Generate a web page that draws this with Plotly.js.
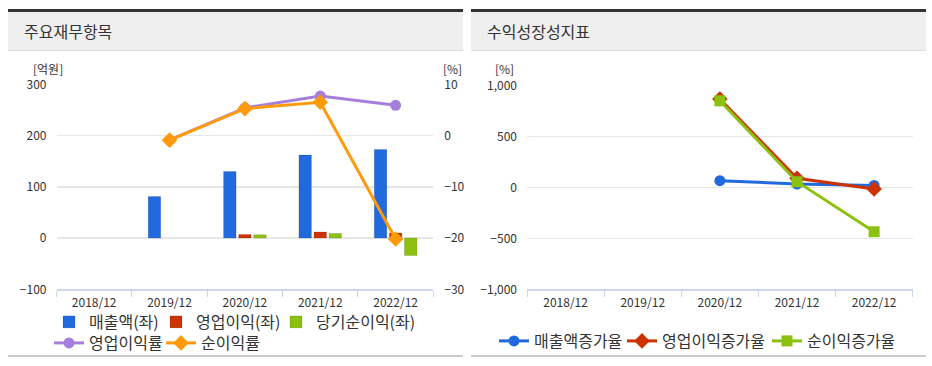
<!DOCTYPE html>
<html>
<head>
<meta charset="utf-8">
<script src="https://cdn.plot.ly/plotly-3.0.1.min.js"></script>
<style>
html,body{margin:0;padding:0;background:#fff;}
#chart{width:932px;height:366px;}
</style>
</head>
<body>
<div id="chart"></div>
<script>
// ---- data ----
const categories = ['2018/12','2019/12','2020/12','2021/12','2022/12'];
// left panel (억원, left axis)
const sales      = [null, 81, 130, 162, 173];
const opIncome   = [null, null, 7, 12, 10];
const netIncome  = [null, null, 6.5, 9, -34];
// left panel (%, right axis)
const opMargin   = [null, -0.9, 5.4, 7.7, 5.9];
const netMargin  = [null, -0.9, 5.25, 6.5, -20.2];
// right panel (%)
const salesGrowth = [null, null, 67, 34, 20];
const opGrowth    = [null, null, 870, 90, -15];
const netGrowth   = [null, null, 853, 57, -434];

const leftTitle = '주요재무항목';
const rightTitle = '수익성장성지표';

// ---- layout helpers ----
const W = 932, H = 366;
const px = x => x / W;
const py = y => 1 - y / H;

const FONT = '"Noto Sans CJK KR", "Malgun Gothic", sans-serif';
const C = {blue:'#2169df', red:'#cc3300', green:'#8dc110', purple:'#a67fdc', orange:'#ff9a0b'};
const barLine = {color:'rgba(0,0,0,0.12)', width:1};

const traces = [
  {type:'bar', name:'매출액(좌)', x:categories, y:sales, xaxis:'x', yaxis:'y',
   marker:{color:C.blue, line:barLine}, legend:'legend', showlegend:true},
  {type:'bar', name:'영업이익(좌)', x:categories, y:opIncome, xaxis:'x', yaxis:'y',
   marker:{color:C.red, line:barLine}, legend:'legend2', showlegend:true},
  {type:'bar', name:'당기순이익(좌)', x:categories, y:netIncome, xaxis:'x', yaxis:'y',
   marker:{color:C.green, line:barLine}, legend:'legend3', showlegend:true},
  {type:'scatter', mode:'lines+markers', name:'영업이익률', x:categories, y:opMargin, xaxis:'x', yaxis:'y2',
   line:{color:C.purple, width:3}, marker:{symbol:'circle', size:11, color:C.purple}, legend:'legend4', showlegend:true},
  {type:'scatter', mode:'lines+markers', name:'순이익률', x:categories, y:netMargin, xaxis:'x', yaxis:'y2',
   line:{color:C.orange, width:3}, marker:{symbol:'diamond', size:12, color:C.orange}, legend:'legend5', showlegend:true},
  {type:'scatter', mode:'lines+markers', name:'매출액증가율', x:categories, y:salesGrowth, xaxis:'x2', yaxis:'y3',
   line:{color:C.blue, width:3}, marker:{symbol:'circle', size:11, color:C.blue}, legend:'legend6', showlegend:true},
  {type:'scatter', mode:'lines+markers', name:'영업이익증가율', x:categories, y:opGrowth, xaxis:'x2', yaxis:'y3',
   line:{color:C.red, width:3}, marker:{symbol:'diamond', size:12, color:C.red}, legend:'legend7', showlegend:true},
  {type:'scatter', mode:'lines+markers', name:'순이익증가율', x:categories, y:netGrowth, xaxis:'x2', yaxis:'y3',
   line:{color:C.green, width:3}, marker:{symbol:'square', size:11, color:C.green}, legend:'legend8', showlegend:true}
];

const xCommon = {
  type:'category', categoryorder:'array', categoryarray:categories, range:[-0.5, 4.5],
  tickson:'boundaries', ticks:'outside', ticklen:6, tickcolor:'#ccd6eb', tickwidth:1,
  showline:true, linecolor:'#ccd6eb', linewidth:1.5, showgrid:false, zeroline:false,
  tickfont:{size:12, color:'#333'}, ticklabelstandoff:2, fixedrange:true
};
const yCommon = {
  gridcolor:'#e6e6e6', gridwidth:1.5, zeroline:false, ticks:'', showline:false,
  tickfont:{size:12, color:'#333'}, fixedrange:true
};
const leg = (textStart, yc) => ({
  visible:true,
  orientation:'h', xanchor:'left', yanchor:'middle', bgcolor:'rgba(0,0,0,0)',
  font:{size:16, color:'#333', family:FONT}, itemwidth:30, tracegroupgap:0,
  x:px(textStart - 39), y:py(yc)
});

const panels = [[8, 463], [471, 926]];
const shapes = [];
panels.forEach(([a, b]) => {
  shapes.push({type:'rect', xref:'paper', yref:'paper', x0:px(a), x1:px(b), y0:py(50), y1:py(12),
               fillcolor:'#efefef', line:{width:0}, layer:'below'});
  shapes.push({type:'rect', xref:'paper', yref:'paper', x0:px(a), x1:px(b), y0:py(12), y1:py(9),
               fillcolor:'#333', line:{width:0}, layer:'below'});
  shapes.push({type:'rect', xref:'paper', yref:'paper', x0:px(a), x1:px(b), y0:py(51), y1:py(50),
               fillcolor:'#dddddd', line:{width:0}, layer:'below'});
  shapes.push({type:'rect', xref:'paper', yref:'paper', x0:px(a), x1:px(b), y0:py(357), y1:py(355),
               fillcolor:'#cccccc', line:{width:0}, layer:'below'});
});

const ann = (text, x, y, size, anchor) => ({
  text, xref:'paper', yref:'paper', x:px(x), y:py(y), xanchor:anchor || 'center', yanchor:'middle',
  showarrow:false, font:{size, color:'#333', family:FONT}
});

const layout = {
  width:W, height:H, margin:{l:0, r:0, t:0, b:0},
  paper_bgcolor:'#fff', plot_bgcolor:'rgba(0,0,0,0)',
  font:{family:FONT, color:'#333'},
  showlegend:true,
  barmode:'group', bargap:0.4, bargroupgap:0.17,
  hovermode:false,
  xaxis:Object.assign({}, xCommon, {domain:[px(56.5), px(433.3)], anchor:'y'}),
  yaxis:Object.assign({}, yCommon, {domain:[py(289.3), py(84.3)], range:[-100, 300], dtick:100, tick0:0,
                                    anchor:'x', ticklabelstandoff:9}),
  yaxis2:Object.assign({}, yCommon, {overlaying:'y', side:'right', anchor:'x', range:[-30, 10], dtick:10, tick0:0,
                                     showgrid:false, ticklabelstandoff:10}),
  xaxis2:Object.assign({}, xCommon, {domain:[px(527), px(912.7)], anchor:'y3'}),
  yaxis3:Object.assign({}, yCommon, {domain:[py(289.3), py(85.7)], range:[-1000, 1000], dtick:500, tick0:0,
                                     anchor:'x2', tickformat:',d', ticklabelstandoff:9}),
  legend:leg(88, 322),
  legend2:leg(195, 322),
  legend3:leg(315, 322),
  legend4:leg(88, 343),
  legend5:leg(200, 343),
  legend6:leg(533, 341),
  legend7:leg(661, 341),
  legend8:leg(806, 341),
  shapes,
  annotations:[
    ann(leftTitle, 22, 31, 16, 'left'),
    ann(rightTitle, 485, 31, 16, 'left'),
    ann('[억원]', 48, 68, 12),
    ann('[%]', 452.5, 68, 12),
    ann('[%]', 504, 68, 12)
  ]
};

Plotly.newPlot('chart', traces, layout, {displayModeBar:false, staticPlot:true});
</script>
</body>
</html>
